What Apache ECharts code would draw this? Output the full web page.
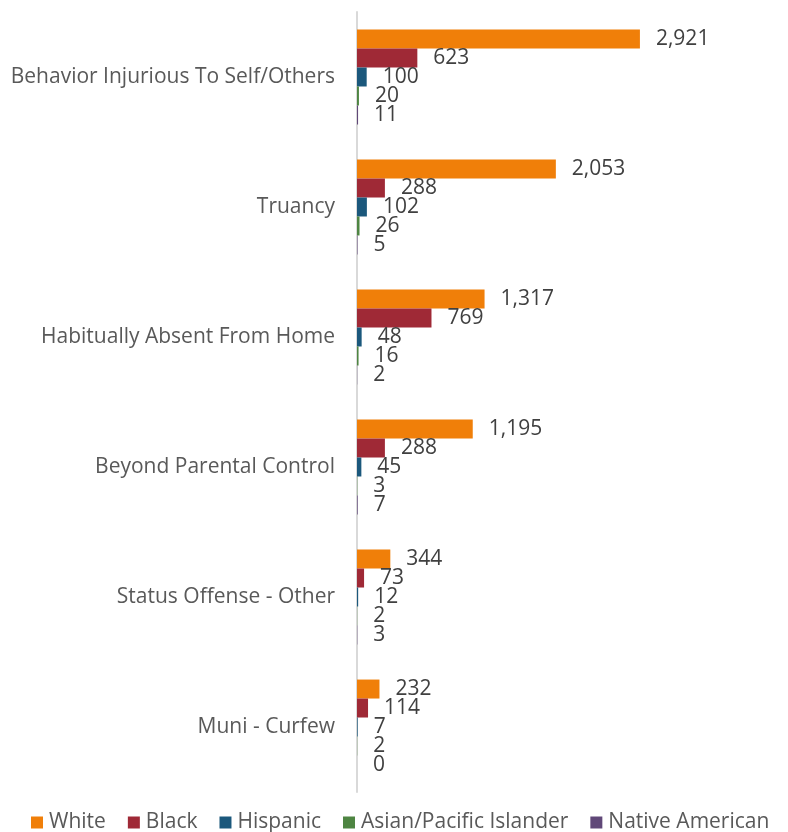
<!DOCTYPE html>
<html><head><meta charset="utf-8">
<script src="https://cdn.jsdelivr.net/npm/echarts@6/dist/echarts.min.js"></script>
<style>html,body{margin:0;padding:0;background:#fff}#c{width:788px;height:832px}</style>
</head><body><div id="c"></div>
<script>
const categories = ["Behavior Injurious To Self/Others","Truancy","Habitually Absent From Home","Beyond Parental Control","Status Offense - Other","Muni - Curfew"];
const seriesNames = ["White","Black","Hispanic","Asian/Pacific Islander","Native American"];
const white = [2921,2053,1317,1195,344,232];
const black = [623,288,769,288,73,114];
const hispanic = [100,102,48,45,12,7];
const asian = [20,26,16,3,2,2];
const native = [11,5,2,7,3,0];
const colors = ["#F07F09","#9F2936","#1B587C","#4E8542","#604878"];
const values = [white,black,hispanic,asian,native];
const font = "'Open Sans', 'Noto Sans', sans-serif";

const chart = echarts.init(document.getElementById('c'), null, {renderer:'canvas'});
chart.setOption({
  animation:false,
  textStyle:{fontFamily:font},
  grid:{left:357,right:92,top:12,bottom:40,containLabel:false},
  legend:{
    data:seriesNames, bottom:-6, left:31, width:757, padding:[5,0,5,0],
    itemWidth:12, itemHeight:12, itemGap:22,
    icon:'rect',
    textStyle:{fontFamily:font,fontSize:21,color:'#595959',padding:[0,0,0,1]}
  },
  xAxis:{type:'value',min:0,max:3500,show:false,splitLine:{show:false}},
  yAxis:{type:'category',data:categories,inverse:true,
    axisLine:{show:true,lineStyle:{color:'#D9D9D9',width:2}},
    axisTick:{show:false},
    axisLabel:{fontFamily:font,fontSize:21,color:'#595959',margin:22}
  },
  series: seriesNames.map((n,i)=>({
    name:n,type:'bar',data:values[i],
    barGap:'0%',barCategoryGap:'27%',
    itemStyle:{color:colors[i]},
    label:{show:true,position:'right',distance:16,fontFamily:font,fontSize:21,color:'#404040',
      formatter:p=>p.value.toLocaleString('en-US')}
  }))
});
</script></body></html>
